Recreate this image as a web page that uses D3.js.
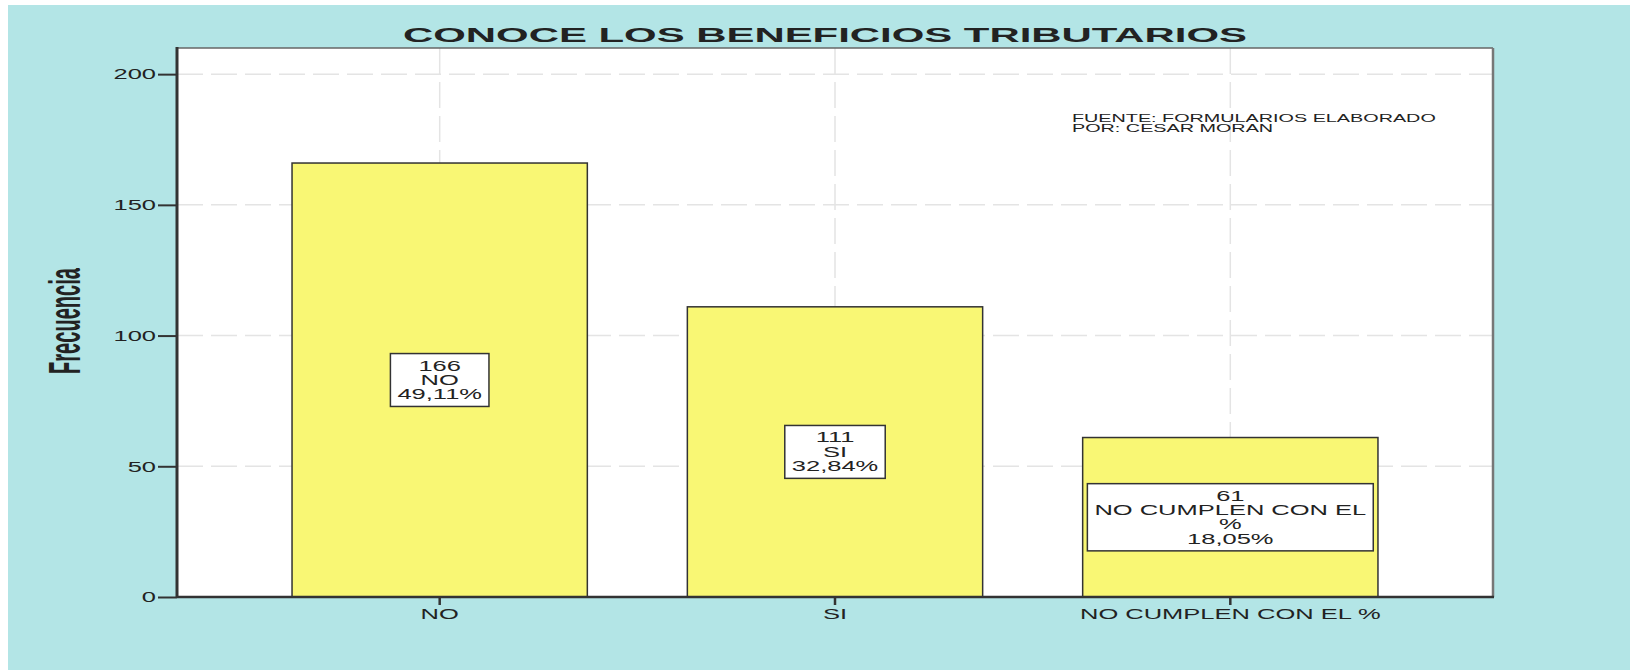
<!DOCTYPE html>
<html>
<head>
<meta charset="utf-8">
<script src="https://cdn.jsdelivr.net/npm/d3@7"></script>
<style>
	body { margin: 0; background: #fff; }
	text { font-family: "Liberation Sans", Arial, sans-serif; fill: #222; }
</style>
</head>
<body>
<svg class="chart"></svg>
<script>
var categories = ["NO", "SI", "NO CUMPLEN CON EL %"];
var frequencies = [166, 111, 61];
var percents = ["49,11%", "32,84%", "18,05%"];
var yTicks = [0, 50, 100, 150, 200];
var titleText = "CONOCE LOS BENEFICIOS TRIBUTARIOS";
var sourceLines = ["FUENTE: FORMULARIOS ELABORADO", "POR: CESAR MORAN"];

var width = 1630;
var height = 670;
var stretch = 1.7; // text in the original is drawn wide

var plotLeft = 177, plotRight = 1493, plotTop = 48, plotBottom = 597;

var svg = d3.select(".chart")
	.attr("width", width)
	.attr("height", height);

// background
svg.append("rect")
	.attr("x", 8)
	.attr("y", 5)
	.attr("width", width - 8)
	.attr("height", height - 5)
	.attr("fill", "#b3e5e6");

svg.append("rect")
	.attr("x", plotLeft)
	.attr("y", plotTop)
	.attr("width", plotRight - plotLeft)
	.attr("height", plotBottom - plotTop)
	.attr("fill", "#fff");

var xScale = d3.scaleBand()
	.domain(categories)
	.range([plotLeft, plotRight])
	.paddingInner(0.253)
	.paddingOuter(0.291);

var yScale = d3.scaleLinear()
	.domain([0, 210])
	.range([plotBottom, plotTop]);

// grid lines
svg.append("g")
	.selectAll("line")
	.data(yTicks.filter(function(d) { return d > 0; }))
	.enter()
	.append("line")
	.attr("x1", plotLeft)
	.attr("x2", plotRight)
	.attr("y1", function(d) { return yScale(d); })
	.attr("y2", function(d) { return yScale(d); })
	.attr("stroke", "#e4e4e4")
	.attr("stroke-width", 1.5)
	.attr("stroke-dasharray", "26,8");

svg.append("g")
	.selectAll("line")
	.data(categories)
	.enter()
	.append("line")
	.attr("x1", function(d) { return xScale(d) + xScale.bandwidth() / 2; })
	.attr("x2", function(d) { return xScale(d) + xScale.bandwidth() / 2; })
	.attr("y1", plotTop)
	.attr("y2", plotBottom)
	.attr("stroke", "#e4e4e4")
	.attr("stroke-width", 1.5)
	.attr("stroke-dasharray", "26,8");

// bars
svg.selectAll(".bar")
	.data(frequencies)
	.enter()
	.append("rect")
	.attr("class", "bar")
	.attr("x", function(d, i) { return xScale(categories[i]); })
	.attr("y", function(d) { return yScale(d); })
	.attr("width", xScale.bandwidth())
	.attr("height", function(d) { return plotBottom - yScale(d); })
	.attr("fill", "#f9f774")
	.attr("stroke", "#333")
	.attr("stroke-width", 1.5);

// frame
svg.append("line")
	.attr("x1", plotLeft).attr("x2", plotRight)
	.attr("y1", plotTop).attr("y2", plotTop)
	.attr("stroke", "#666")
	.attr("stroke-width", 1.5);

svg.append("line")
	.attr("x1", plotRight).attr("x2", plotRight)
	.attr("y1", plotTop).attr("y2", plotBottom)
	.attr("stroke", "#777")
	.attr("stroke-width", 2.5);

// Y Axis
var yAxis = d3.axisLeft(yScale)
	.tickValues(yTicks)
	.tickSize(19)
	.tickPadding(2);

var yg = svg.append("g")
	.attr("transform", "translate(" + plotLeft + ",0)")
	.call(yAxis);

yg.select(".domain").remove();
yg.selectAll(".tick line").attr("stroke", "#333").attr("stroke-width", 2);
yg.selectAll(".tick text")
	.attr("font-size", 15)
	.attr("font-family", null)
	.attr("fill", "#333")
	.attr("x", -21 / stretch)
	.attr("transform", "scale(" + stretch + ",1)");

// X Axis
var xAxis = d3.axisBottom(xScale)
	.tickSize(8)
	.tickPadding(3);

var xg = svg.append("g")
	.attr("transform", "translate(0," + plotBottom + ")")
	.call(xAxis);

xg.select(".domain").remove();
xg.selectAll(".tick line").attr("stroke", "#333").attr("stroke-width", 2.5);
xg.selectAll(".tick text")
	.attr("font-size", 15)
	.attr("font-family", null)
	.attr("fill", "#333")
	.attr("transform", "scale(" + stretch + ",1)");

svg.append("line")
	.attr("x1", plotLeft).attr("x2", plotLeft)
	.attr("y1", plotTop - 1).attr("y2", plotBottom + 1)
	.attr("stroke", "#333")
	.attr("stroke-width", 3);

svg.append("line")
	.attr("x1", plotLeft).attr("x2", plotRight + 1)
	.attr("y1", plotBottom).attr("y2", plotBottom)
	.attr("stroke", "#333")
	.attr("stroke-width", 2.5);

// bar labels
var lineH = 14.3;
var maxW = xScale.bandwidth() - 14;

function wrap(g, str) {
	var words = str.split(" ");
	var lines = [];
	var cur = "";
	var probe = g.append("text").attr("font-size", 15);
	words.forEach(function(w) {
		var next = cur ? cur + " " + w : w;
		probe.text(next);
		if (cur && probe.node().getComputedTextLength() * stretch > maxW) {
			lines.push(cur);
			cur = w;
		} else {
			cur = next;
		}
	});
	lines.push(cur);
	probe.remove();
	return lines;
}

frequencies.forEach(function(d, i) {
	var g = svg.append("g")
		.attr("transform", "translate(" + (xScale(categories[i]) + xScale.bandwidth() / 2) + "," + yScale(d / 2) + ")");
	var lines = [String(d)].concat(wrap(g, categories[i])).concat([percents[i]]);
	var box = g.append("rect");
	var h = lines.length * lineH + 10;
	var texts = g.selectAll("text")
		.data(lines)
		.enter()
		.append("text")
		.attr("font-size", 15)
		.attr("text-anchor", "middle")
		.attr("transform", "scale(" + stretch + ",1)")
		.attr("y", function(l, j) { return -h / 2 + 17 + j * lineH; })
		.text(function(l) { return l; });
	var w = 0;
	texts.each(function() { w = Math.max(w, this.getComputedTextLength() * stretch); });
	w += 14;
	box.attr("x", -w / 2)
		.attr("y", -h / 2)
		.attr("width", w)
		.attr("height", h)
		.attr("fill", "#fff")
		.attr("stroke", "#333")
		.attr("stroke-width", 1.5);
});

// title
svg.append("text")
	.attr("x", 825)
	.attr("y", 42)
	.attr("text-anchor", "middle")
	.attr("font-size", 21)
	.attr("font-weight", "bold")
	.attr("textLength", 844)
	.attr("lengthAdjust", "spacingAndGlyphs")
	.text(titleText);

// y label
svg.append("g")
	.attr("transform", "translate(80,321)")
	.append("text")
	.attr("text-anchor", "middle")
	.attr("font-size", 24)
	.attr("font-weight", "bold")
	.attr("textLength", 106)
	.attr("lengthAdjust", "spacingAndGlyphs")
	.attr("transform", "scale(1.85,1) rotate(-90)")
	.text("Frecuencia");

// source note
svg.append("g")
	.attr("transform", "translate(1072,121.5)")
	.selectAll("text")
	.data(sourceLines)
	.enter()
	.append("text")
	.attr("font-size", 11)
	.attr("fill", "#444")
	.attr("y", function(d, i) { return i * 11; })
	.attr("transform", "scale(1.8,1)")
	.text(function(d) { return d; });
</script>
</body>
</html>
